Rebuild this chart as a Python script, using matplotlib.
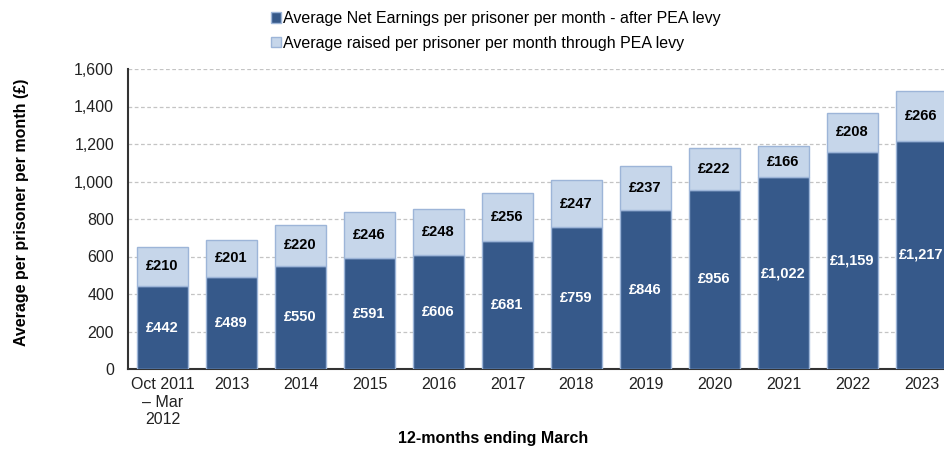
import numpy as np
import matplotlib.pyplot as plt

plt.rcParams['font.family'] = ['Liberation Sans', 'DejaVu Sans']

# Data
categories = ['Oct 2011\n– Mar\n2012', '2013', '2014', '2015', '2016', '2017',
              '2018', '2019', '2020', '2021', '2022', '2023']
net_earnings = [442, 489, 550, 591, 606, 681, 759, 846, 956, 1022, 1159, 1217]
pea_levy = [210, 201, 220, 246, 248, 256, 247, 237, 222, 166, 208, 266]

dark = '#36598A'
light = '#C6D6EA'
edge = '#9DB5D8'

fig = plt.figure(figsize=(9.45, 4.5), dpi=100)
# axes runs past the right edge, like the cropped original
ax = fig.add_axes([128/945, 81/450, 828/945, 300/450])

x = np.arange(len(categories))
w = 0.75
b1 = ax.bar(x, net_earnings, w, color=dark, edgecolor=edge, linewidth=1,
            label='Average Net Earnings per prisoner per month - after PEA levy', zorder=3)
b2 = ax.bar(x, pea_levy, w, bottom=net_earnings, color=light, edgecolor=edge, linewidth=1,
            label='Average raised per prisoner per month through PEA levy', zorder=3)

for i in range(len(x)):
    ax.text(x[i], net_earnings[i] / 2, '£{:,}'.format(net_earnings[i]), ha='center', va='center',
            color='white', fontsize=10.5, fontweight='bold', zorder=4)
    ax.text(x[i], net_earnings[i] + pea_levy[i] / 2, '£{:,}'.format(pea_levy[i]), ha='center',
            va='center', color='black', fontsize=10.5, fontweight='bold', zorder=4)

ax.set_xlim(-0.5, 11.5)
ax.set_ylim(0, 1600)
ax.set_yticks(range(0, 1601, 200))
ax.set_yticklabels(['{:,}'.format(v) for v in range(0, 1601, 200)])
ax.set_xticks(x)
ax.set_xticklabels(categories)
ax.tick_params(axis='both', length=0, labelsize=11.5, colors='#222222')
ax.tick_params(axis='y', pad=10)
ax.tick_params(axis='x', pad=6)
ax.yaxis.grid(True, linestyle=(0, (3, 2)), color='#C4C4C4', linewidth=0.9, zorder=0)

for s in ['top', 'right']:
    ax.spines[s].set_visible(False)
ax.spines['left'].set_color('#333333')
ax.spines['bottom'].set_color('#333333')
ax.spines['left'].set_linewidth(1.5)
ax.spines['bottom'].set_linewidth(1.5)

ax.set_ylabel('Average per prisoner per month (£)', fontsize=11.5, fontweight='bold')
ax.yaxis.set_label_coords(-(128 - 29) / 828, 0.523)
fig.text(493/945, 1 - 439/450, '12-months ending March', ha='center', va='center',
         fontsize=11.5, fontweight='bold')

fig.legend(handles=[b1, b2], loc='upper left', bbox_to_anchor=(260/945, 1.0),
           frameon=False, fontsize=11.5, handlelength=0.6, handleheight=0.6,
           handletextpad=0.15, labelspacing=0.6, borderaxespad=0.3)

plt.savefig('out.png', dpi=100)
